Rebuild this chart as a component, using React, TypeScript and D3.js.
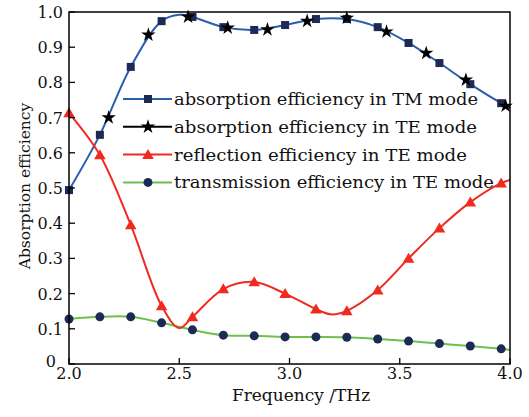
import React from "react";
import * as d3 from "d3";

// Frequency grid shared by the TM, reflection and transmission samples (THz)
const freqA = [2.0, 2.14, 2.28, 2.42, 2.56, 2.7, 2.84, 2.98, 3.12, 3.26, 3.4, 3.54, 3.68, 3.82, 3.96];
// Frequency grid of the TE absorption samples (THz)
const freqTE = [2.18, 2.36, 2.54, 2.72, 2.9, 3.08, 3.26, 3.44, 3.62, 3.8, 3.98];

const absTM = [0.494, 0.651, 0.844, 0.974, 0.986, 0.957, 0.949, 0.963, 0.98, 0.98, 0.957, 0.912, 0.855, 0.795, 0.741];
const absTE = [0.7, 0.935, 0.986, 0.955, 0.95, 0.974, 0.983, 0.944, 0.883, 0.807, 0.733];
const reflTE = [0.713, 0.594, 0.395, 0.165, 0.134, 0.213, 0.233, 0.2, 0.156, 0.151, 0.21, 0.3, 0.386, 0.46, 0.514];
const transTE = [0.128, 0.134, 0.134, 0.117, 0.097, 0.082, 0.08, 0.077, 0.077, 0.076, 0.071, 0.065, 0.058, 0.051, 0.043];

// Extra curve samples between the marked points
const tmExtra = [[2.5, 0.992], [4.0, 0.728]];
const reflExtra = [[2.5, 0.102], [3.19, 0.141], [4.0, 0.523]];
const transExtra = [[4.0, 0.04]];

const xTicks = [2.0, 2.5, 3.0, 3.5, 4.0];
const yTicks = [0, 0.1, 0.2, 0.3, 0.4, 0.5, 0.6, 0.7, 0.8, 0.9, 1.0];

const legendLabels = [
  "absorption efficiency in TM mode",
  "absorption efficiency in TE mode",
  "reflection efficiency in TE mode",
  "transmission efficiency in TE mode",
];
const legendWidths = [304, 303, 293, 320];

const W = 529;
const H = 417;
const M = { left: 69, right: 19, top: 12, bottom: 53 };
const FONT = "'DejaVu Serif', serif";

const BLUE = "#2c5ead";
const NAVY = "#1d2a55";
const RED = "#f12a1f";
const GREEN = "#6cc04b";

type P = [number, number];

function merge(xs: number[], ys: number[], extra: number[][]): P[] {
  const pts: P[] = xs.map((x, i) => [x, ys[i]] as P);
  extra.forEach((e) => pts.push([e[0], e[1]]));
  return pts.sort((a, b) => a[0] - b[0]);
}

export default function App() {
  const x = d3.scaleLinear().domain([2, 4]).range([M.left, W - M.right]);
  const y = d3.scaleLinear().domain([0, 1]).range([H - M.bottom, M.top]);

  const line = d3
    .line<P>()
    .x((d) => x(d[0]))
    .y((d) => y(d[1]))
    .curve(d3.curveCatmullRom.alpha(0.5));

  const tmPts = merge(freqA, absTM, tmExtra);
  const reflPts = merge(freqA, reflTE, reflExtra);
  const transPts = merge(freqA, transTE, transExtra);

  const star = d3.symbol().type(d3.symbolStar).size(64)() as string;
  const tri = d3.symbol().type(d3.symbolTriangle).size(58)() as string;

  const square = (cx: number, cy: number, k: string | number) => (
    <rect key={k} x={cx - 4} y={cy - 4} width={8} height={8} fill={NAVY} />
  );
  const starM = (cx: number, cy: number, k: string | number) => (
    <path key={k} d={star} transform={`translate(${cx},${cy})`} fill="#000" />
  );
  const triM = (cx: number, cy: number, k: string | number) => (
    <path key={k} d={tri} transform={`translate(${cx},${cy + 1})`} fill={RED} />
  );
  const circM = (cx: number, cy: number, k: string | number) => (
    <circle key={k} cx={cx} cy={cy} r={4.5} fill={NAVY} />
  );

  const x0 = M.left;
  const x1 = W - M.right;
  const y0 = H - M.bottom;
  const y1 = M.top;

  const legendRows = [
    { color: BLUE, marker: square },
    { color: "#000", marker: starM },
    { color: RED, marker: triM },
    { color: GREEN, marker: circM },
  ];

  return (
    <svg
      width={W}
      height={H}
      style={{ position: "absolute", left: 0, top: 0, background: "#fff" }}
      fontFamily={FONT}
    >
      <rect width={W} height={H} fill="#fff" />

      {/* curves */}
      <path d={line(tmPts) as string} fill="none" stroke={BLUE} strokeWidth={2} />
      <path d={line(transPts) as string} fill="none" stroke={GREEN} strokeWidth={2} />
      <path d={line(reflPts) as string} fill="none" stroke={RED} strokeWidth={2} />

      {/* markers */}
      {freqA.map((f, i) => square(x(f), y(absTM[i]), `s${i}`))}
      {freqTE.map((f, i) => starM(x(f), y(absTE[i]), `t${i}`))}
      {freqA.map((f, i) => circM(x(f), y(transTE[i]), `c${i}`))}
      {freqA.map((f, i) => triM(x(f), y(reflTE[i]), `r${i}`))}

      {/* frame */}
      <rect x={x0} y={y1} width={x1 - x0} height={y0 - y1} fill="none" stroke="#000" strokeWidth={1.5} />

      {/* x ticks */}
      {xTicks.map((t) => (
        <g key={`xt${t}`}>
          <line x1={x(t)} x2={x(t)} y1={y0} y2={y0 - 6} stroke="#000" strokeWidth={1.3} />
          <text x={x(t)} y={y0 + 15} textAnchor="middle" fontSize={16} fill="#111">
            {t.toFixed(1)}
          </text>
        </g>
      ))}

      {/* y ticks */}
      {yTicks.map((t) => (
        <g key={`yt${t}`}>
          <line x1={x0} x2={x0 + 6} y1={y(t)} y2={y(t)} stroke="#000" strokeWidth={1.3} />
          <text
            x={t === 0 ? x0 - 13 : x0 - 6}
            y={y(t) + (t === 0 ? 3 : 6)}
            textAnchor="end"
            fontSize={16}
            fill="#111"
          >
            {t === 0 ? "0" : t.toFixed(1)}
          </text>
        </g>
      ))}

      {/* axis titles */}
      <text x={301} y={401} textAnchor="middle" fontSize={17} fill="#111">
        Frequency /THz
      </text>
      <text
        transform={`translate(30,186) rotate(-90)`}
        textAnchor="middle"
        fontSize={15.5}
        fill="#111"
      >
        Absorption efficiency
      </text>

      {/* legend */}
      {legendLabels.map((lab, i) => {
        const ly = 99 + i * 27.8;
        const row = legendRows[i];
        return (
          <g key={`lg${i}`}>
            <line x1={123} x2={172} y1={ly} y2={ly} stroke={row.color} strokeWidth={2} />
            {row.marker(148, ly, `lm${i}`)}
            <text
              x={174}
              y={ly + 6}
              fontSize={16.5}
              fill="#111"
              textLength={legendWidths[i]}
              lengthAdjust="spacingAndGlyphs"
            >
              {lab}
            </text>
          </g>
        );
      })}
    </svg>
  );
}
